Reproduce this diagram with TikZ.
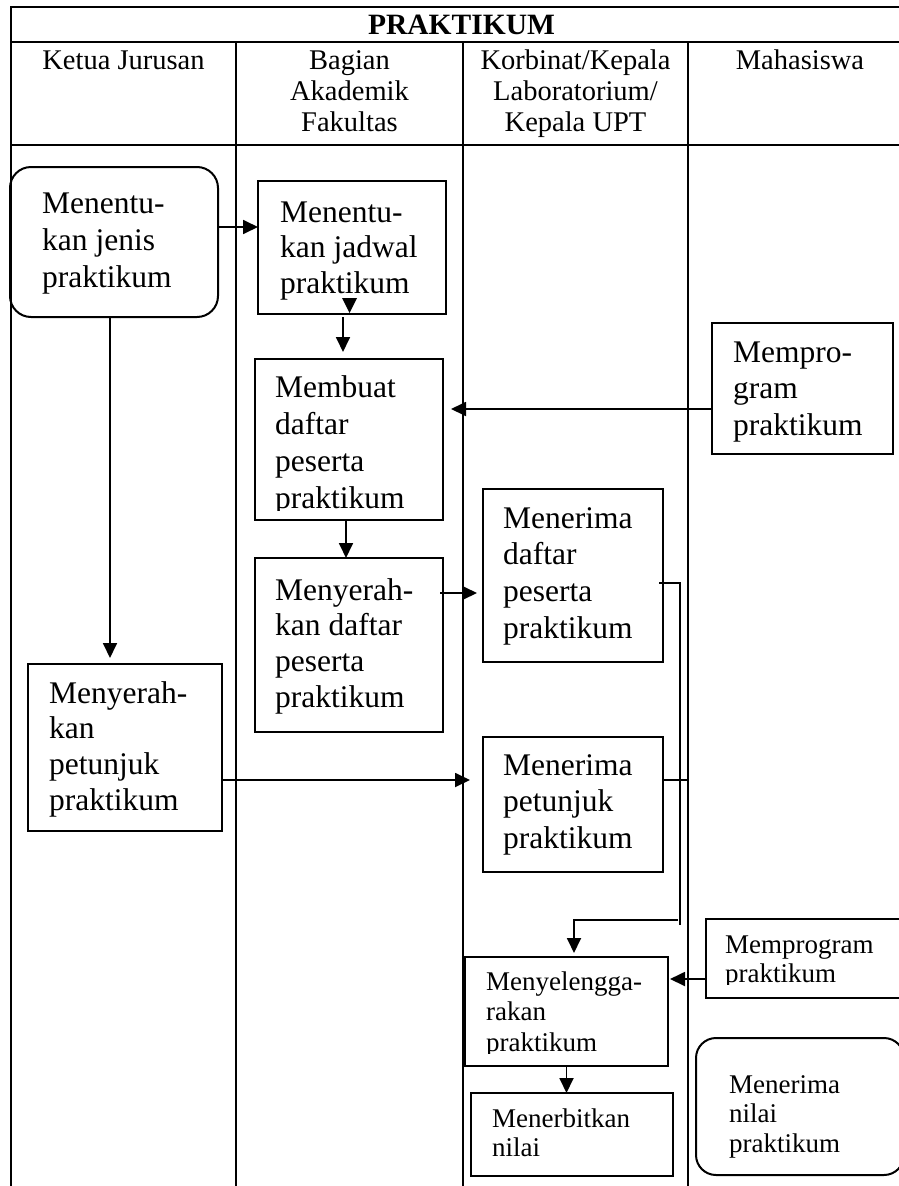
\documentclass[tikz,border=0pt]{standalone}
\usepackage{fontspec}
\setmainfont{Liberation Serif}
\usetikzlibrary{arrows.meta,calc}
% invisible strut that fixes the height of a first text line
\newcommand\lnstrut{\rule{0pt}{0.75em}}
\begin{document}
\begin{tikzpicture}[x=1pt,y=-1pt,
  lane/.style={line width=2.6pt},
  boxshape/.style={draw, line width=2pt, inner sep=0pt, outer sep=0pt, anchor=north west},
  roundshape/.style={boxshape, rounded corners=21pt},
  bigtext/.style={anchor=north west, inner sep=0pt, align=left, font=\fontsize{31.5}{#1}\selectfont},
  bigtext/.default=36.5,
  smalltext/.style={anchor=north west, inner sep=0pt, align=left, font=\fontsize{27}{#1}\selectfont},
  smalltext/.default=29.5,
  headtext/.style={anchor=north, inner sep=0pt, align=center, font=\fontsize{28.5}{31}\selectfont},
  flow/.style={line width=1.8pt},
  arr/.style={flow, -{Triangle[length=15pt,width=14pt]}},
]
\useasboundingbox (0,0) rectangle (899,1186);
\clip (0,0) rectangle (899,1186);

% table frame and swimlanes
\draw[lane] (905,7) -- (11,7) -- (11,1190);
\draw[lane] (11,42) -- (905,42);
\draw[lane] (11,145) -- (905,145);
\draw[lane] (236,42) -- (236,1190);
\draw[lane] (463,42) -- (463,1190);
\draw[lane] (688,42) -- (688,1190);
\coordinate (lane3) at (688,0);

\node[font=\bfseries\fontsize{29.5}{30}\selectfont, anchor=base, inner sep=0pt] (title) at (461.5,34) {PRAKTIKUM};
\node[headtext] (h1) at (123.5,47.6) {\lnstrut Ketua Jurusan};
\node[headtext] (h2) at (349.5,47.6) {\lnstrut Bagian\\Akademik\\Fakultas};
\node[headtext] (h3) at (575.5,47.6) {\lnstrut Korbinat/Kepala\\Laboratorium/\\Kepala UPT};
\node[headtext] (h4) at (800,47.6) {\lnstrut Mahasiswa};

% process boxes
\node[roundshape, minimum width=208pt, minimum height=150pt] (B1) at (10,167) {};
\node[boxshape, minimum width=188pt, minimum height=133pt] (B2) at (258,181) {};
\node[boxshape, minimum width=188pt, minimum height=161pt] (B3) at (255,359) {};
\node[boxshape, minimum width=181pt, minimum height=131pt] (B4) at (712,323) {};
\node[boxshape, minimum width=194pt, minimum height=167pt] (B5) at (28,664) {};
\node[boxshape, minimum width=188pt, minimum height=174pt] (B6) at (255,558) {};
\node[boxshape, minimum width=180pt, minimum height=173pt] (B7) at (483,489) {};
\node[boxshape, minimum width=180pt, minimum height=135pt] (B8) at (483,737) {};
\node[boxshape, minimum width=203pt, minimum height=109pt] (B9) at (465,957) {};
\node[boxshape, minimum width=202pt, minimum height=83pt] (B10) at (471,1093) {};
\node[boxshape, minimum width=204pt, minimum height=79pt] (B11) at (706,919) {};
\node[roundshape, rounded corners=20pt, minimum width=208pt, minimum height=137pt] (B12) at (696,1038) {};

% box texts
\node[bigtext=37] (T1) at (42,189.4) {\lnstrut Menentu-\\kan jenis\\praktikum};
\node[bigtext=35.5] (T2) at (280,198.4) {\lnstrut Menentu-\\kan jadwal\\praktikum};
\begin{scope}
  \clip (255,359) rectangle (443,510);
  \node[bigtext=37] (T3) at (275,373.4) {\lnstrut Membuat\\daftar\\peserta\\praktikum};
\end{scope}
\node[bigtext] (T4) at (733,338.4) {\lnstrut Mempro-\\gram\\praktikum};
\node[bigtext=35.7] (T5) at (49,679.4) {\lnstrut Menyerah-\\kan\\petunjuk\\praktikum};
\node[bigtext=35.7] (T6) at (275,576.4) {\lnstrut Menyerah-\\kan daftar\\peserta\\praktikum};
\node[bigtext=36.7] (T7) at (503,504.4) {\lnstrut Menerima\\daftar\\peserta\\praktikum};
\node[bigtext] (T8) at (503,751.4) {\lnstrut Menerima\\petunjuk\\praktikum};
\begin{scope}
  \clip (465,957) rectangle (668,1053);
  \node[smalltext=30.5] (T9) at (486,969.75) {\lnstrut Menyelengga-\\rakan\\praktikum};
\end{scope}
\node[smalltext] (T10) at (492,1106.75) {\lnstrut Menerbitkan\\nilai};
\begin{scope}
  \clip (706,919) rectangle (905,984);
  \node[smalltext] (T11) at (725,932.75) {\lnstrut Memprogram\\praktikum};
\end{scope}
\node[smalltext] (T12) at (729,1072.75) {\lnstrut Menerima\\nilai\\praktikum};

% connectors
\draw[arr] ([yshift=15pt]B1.east) -- ([yshift=15pt]B1.east -| B2.west);
\fill ($(B2.south)+(-10,-16)$) -- ($(B2.south)+(5,-16)$) -- ($(B2.south)+(-2.5,-1)$) -- cycle;
\draw[arr, shorten <=3pt, shorten >=7pt] ([xshift=-9pt]B2.south) -- ([xshift=-9pt]B2.south |- B3.north);
\draw[arr, shorten >=8pt] ([yshift=-20.5pt]B4.west) -- ([yshift=-20.5pt]B4.west -| B3.east);
\draw[arr] ([xshift=-3pt]B3.south) -- ([xshift=-3pt]B3.south |- B6.north);
\draw[arr, shorten <=-3pt, shorten >=6pt] ([yshift=52pt]B6.east) -- ([yshift=52pt]B6.east -| B7.west);
\draw[arr, shorten >=6pt] ([xshift=-4pt]B1.south) -- ([xshift=-4pt]B1.south |- B5.north);
\draw[arr, shorten >=13pt] ([yshift=-32.5pt]B5.east) -- ([yshift=-32.5pt]B5.east -| B8.west);

\coordinate (j1) at (680,583);
\coordinate (j2) at (680,925);
\coordinate (j3) at (678,920);
\draw[flow, shorten <=-4pt] ([yshift=-7.5pt]B7.east) -- (j1) -- (j2);
\draw[arr, shorten >=4pt] (j3) -| ([xshift=7.5pt]B9.north);
\draw[flow] ([yshift=24.5pt]B8.east) -- ([yshift=24.5pt]B8.east -| lane3);

\draw[arr, shorten >=2pt] ([yshift=-20.5pt]B11.west) -- ([yshift=-20.5pt]B11.west -| B9.east);
\draw[arr] (B9.south) -- (B9.south |- B10.north);
\end{tikzpicture}
\end{document}
